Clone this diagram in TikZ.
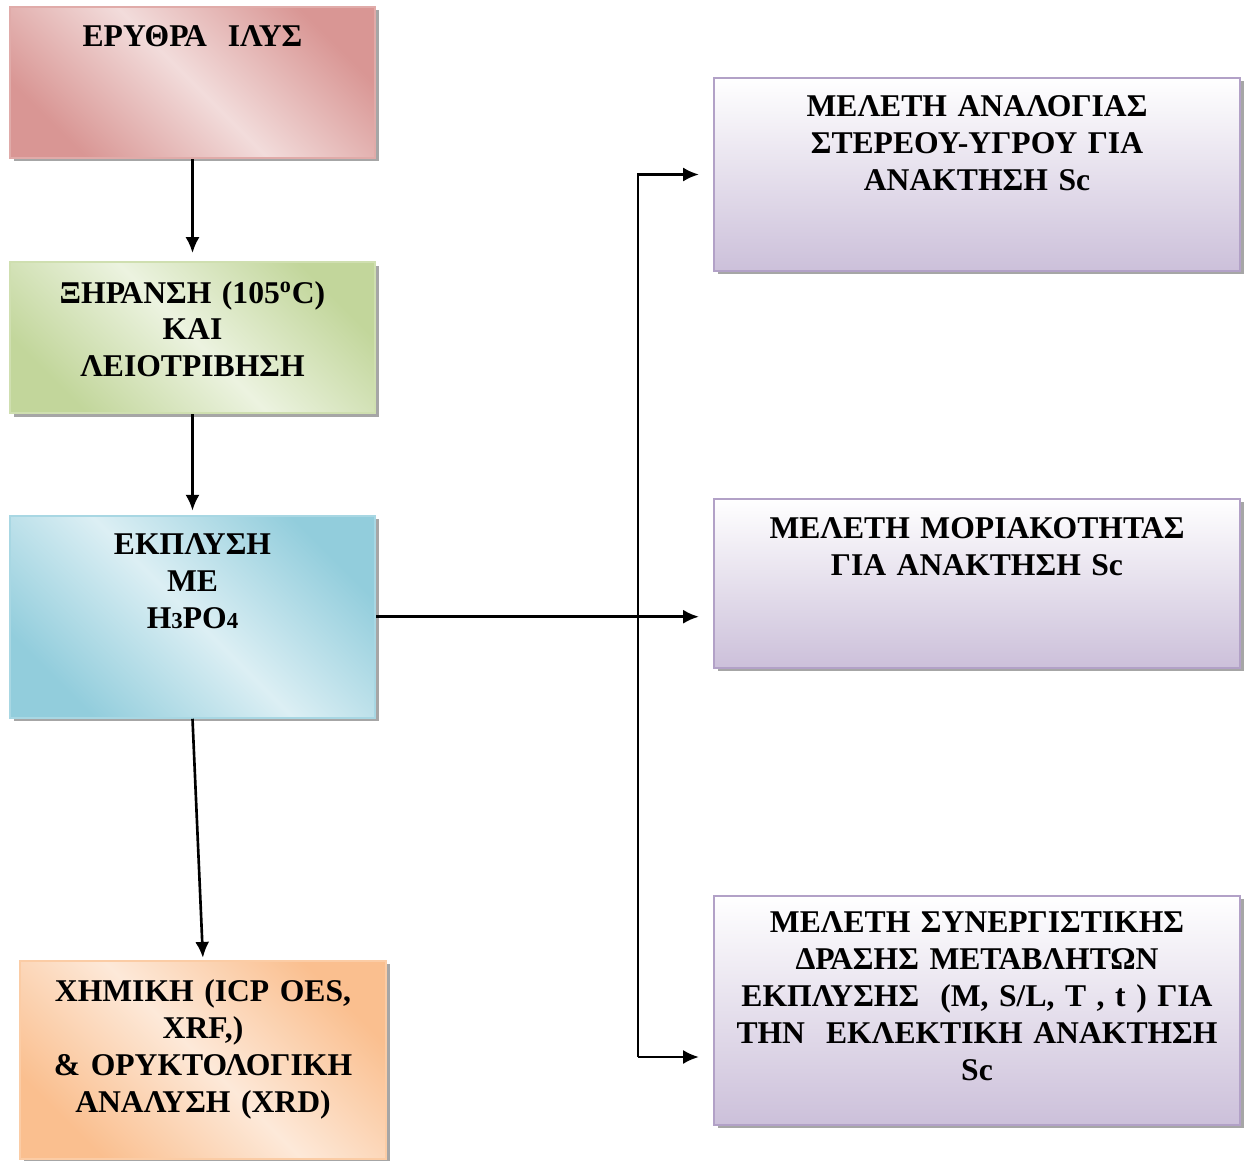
\documentclass[tikz,border=0pt]{standalone}
\usepackage{fontspec}
\setmainfont{Liberation Serif}
\usetikzlibrary{arrows.meta,calc,shapes,positioning,shadows}

\definecolor{muddark}{RGB}{217,150,148}
\definecolor{mudlight}{RGB}{242,220,219}
\definecolor{drydark}{RGB}{194,214,155}
\definecolor{drylight}{RGB}{236,243,224}
\definecolor{leachdark}{RGB}{146,205,220}
\definecolor{leachlight}{RGB}{220,239,244}
\definecolor{xrddark}{RGB}{250,191,143}
\definecolor{xrdlight}{RGB}{253,233,217}
\definecolor{studydark}{RGB}{204,192,218}
\definecolor{studyedge}{RGB}{178,161,199}

\begin{document}
\begin{tikzpicture}
        [
            line/.style = {
                draw,
                line width=1.5pt,
                -{Latex[length=9pt,width=8pt]}
            },
            block/.style = {
                rectangle,
                draw,
                line width=1.2pt,
                minimum width=7.3cm,
                drop shadow={shadow xshift=0.07cm, shadow yshift=-0.07cm, fill=black, opacity=0.35}
            },
            diagonal/.style 2 args = {
                block,
                draw=#1!70!#2,
                top color=#1,
                bottom color=#1,
                middle color=#2,
                shading angle=-45
            },
            study/.style = {
                block,
                draw=studyedge,
                minimum width=10.52cm,
                top color=white,
                bottom color=studydark
            },
            caption/.style = {
                anchor=base,
                text width=10.4cm,
                align=center,
                inner sep=0pt,
                font=\fontsize{18}{21}\selectfont\bfseries
            }
        ]

        \useasboundingbox (0,0) rectangle (24.98,-23.22);

        % left column
        \node[diagonal={muddark}{mudlight}, minimum height=3.02cm] (mud) at (3.85,-1.65) {};
        \node[diagonal={drydark}{drylight}, minimum height=3.02cm, below=2.04cm of mud] (drying) {};
        \node[diagonal={leachdark}{leachlight}, minimum height=4.04cm, below=2.01cm of drying] (leach) {};
        \node[diagonal={xrddark}{xrdlight}, minimum width=7.32cm, minimum height=3.96cm, below=4.82cm of leach, xshift=0.21cm] (analysis) {};

        % right column
        \node[study, minimum height=3.86cm] (ratio) at (19.54,-3.49) {};
        \node[study, minimum height=3.38cm, below=4.51cm of ratio] (molarity) {};
        \node[study, minimum height=4.58cm, below=4.52cm of molarity] (synergy) {};

        \node[caption] (mudtext) at ([yshift=-0.82cm]mud.north) {ΕΡΥΘΡΑ\ \ ΙΛΥΣ};
        \node[caption] (dryingtext) at ([yshift=-0.84cm]drying.north) {ΞΗΡΑΝΣΗ (105\textsuperscript{o}C)\\ ΚΑΙ\\ ΛΕΙΟΤΡΙΒΗΣΗ};
        \node[caption] (leachtext) at ([yshift=-0.8cm]leach.north) {ΕΚΠΛΥΣΗ\\ ΜΕ\\ H{\fontsize{13}{13}\selectfont 3}PO{\fontsize{13}{13}\selectfont 4}};
        \node[caption] (analysistext) at ([yshift=-0.84cm]analysis.north) {ΧΗΜΙΚΗ (ICP OES,\\ XRF,)\\ \& ΟΡΥΚΤΟΛΟΓΙΚΗ\\ ΑΝΑΛΥΣΗ (XRD)};
        \node[caption] (ratiotext) at ([yshift=-0.8cm]ratio.north) {ΜΕΛΕΤΗ ΑΝΑΛΟΓΙΑΣ\\ ΣΤΕΡΕΟΥ-ΥΓΡΟΥ ΓΙΑ\\ ΑΝΑΚΤΗΣΗ Sc};
        \node[caption] (molaritytext) at ([yshift=-0.82cm]molarity.north) {ΜΕΛΕΤΗ ΜΟΡΙΑΚΟΤΗΤΑΣ\\ ΓΙΑ ΑΝΑΚΤΗΣΗ Sc};
        \node[caption] (synergytext) at ([yshift=-0.76cm]synergy.north) {ΜΕΛΕΤΗ ΣΥΝΕΡΓΙΣΤΙΚΗΣ\\ ΔΡΑΣΗΣ ΜΕΤΑΒΛΗΤΩΝ\\ ΕΚΠΛΥΣΗΣ\ \ (M, S/L, T , t ) ΓΙΑ\\ ΤΗΝ\ \ ΕΚΛΕΚΤΙΚΗ ΑΝΑΚΤΗΣΗ\\ Sc};

        \coordinate (fork) at (12.76,-21.14);

        \path[line, shorten >=0.16cm] (mud) -- (drying);
        \path[line, shorten >=0.08cm] (drying) -- (leach);
        \path[line, shorten >=0.04cm] (leach.south) -- (analysis.north);
        \path[line, shorten >=0.28cm] (leach.east) -- (leach.east -| molarity.west);
        \path[line, shorten >=0.28cm] (fork) |- (ratio.west);
        \path[line, shorten >=0.28cm] (fork) -- (fork -| synergy.west);
    \end{tikzpicture}
\end{document}
